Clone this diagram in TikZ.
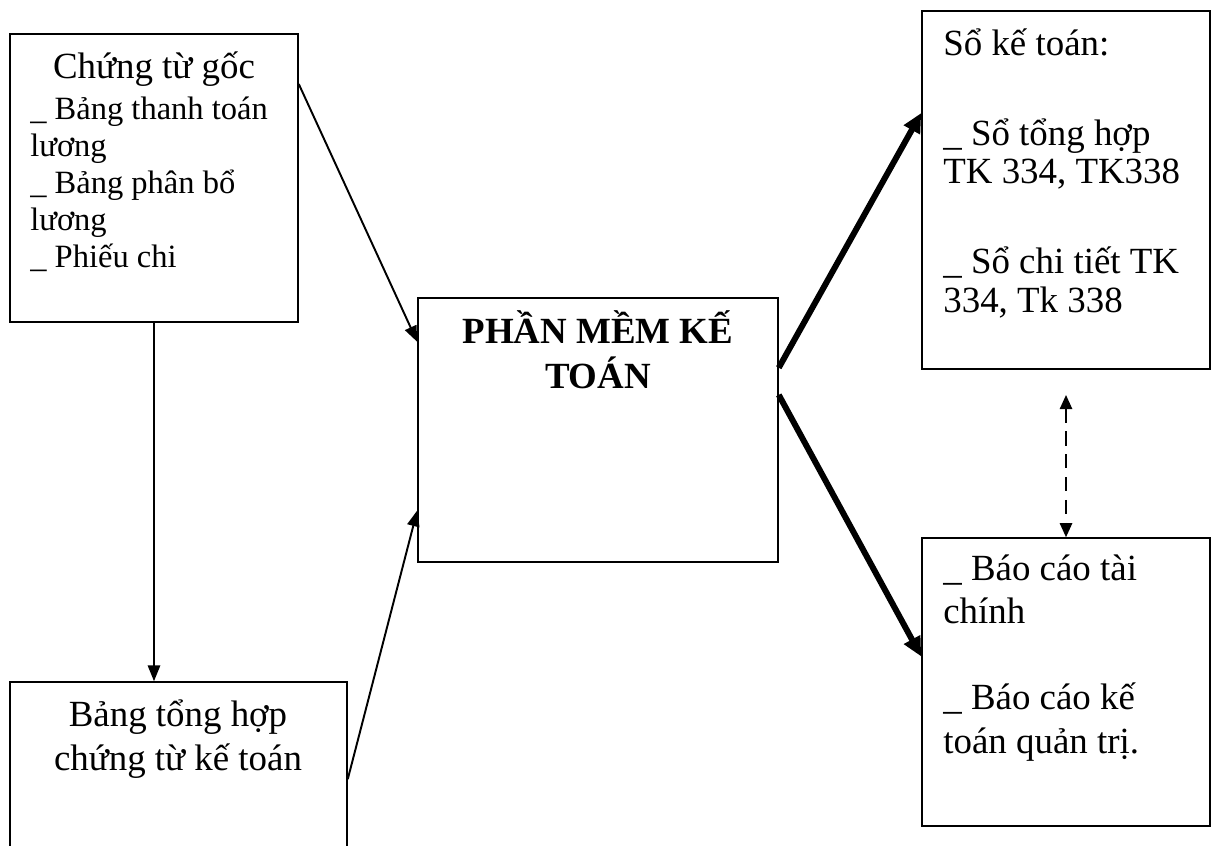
\documentclass[tikz,border=0pt]{standalone}
\usepackage{fontspec}
\setmainfont{Liberation Serif}
\usetikzlibrary{arrows.meta,calc}
\newcommand\bigtxt{\fontsize{21pt}{22pt}\selectfont}
\newcommand\listtxt{\fontsize{18.5pt}{21pt}\selectfont}
\begin{document}
\begin{tikzpicture}[x=0.02cm, y=-0.02cm,
  box/.style={draw, line width=0.9pt, inner sep=0pt},
  txt/.style={inner sep=0pt, align=left, anchor=base west, font=\bigtxt},
  thin arr/.style={-{Triangle[length=9pt,width=7pt]}, line width=1.1pt},
  fat arr/.style={-{Triangle[length=11pt,width=10pt]}, line width=3.4pt},
  dash arr/.style={{Triangle[length=8pt,width=7pt]}-{Triangle[length=8pt,width=7pt]}, line width=1pt, dash pattern=on 8pt off 5pt}]
\useasboundingbox (0,0) rectangle (1213,845);
% boxes
\node[box, minimum width=5.76cm, minimum height=5.76cm] (goc) at (154,178) {};
\node[box, minimum width=6.74cm, minimum height=4.36cm] (tonghop) at (178.5,791) {};
\node[box, minimum width=7.2cm, minimum height=5.28cm] (phanmem) at (598,430) {};
\node[box, minimum width=5.76cm, minimum height=7.16cm] (sokt) at (1066,190) {};
\node[box, minimum width=5.76cm, minimum height=5.76cm] (baocao) at (1066,682) {};
% texts (base = last line)
\node[txt, anchor=base, align=center] (goc-title) at (154,78) {Chứng từ gốc};
\node[txt, font=\listtxt] (goc-list) at (30,267) {\_ Bảng thanh toán\\lương\\\_ Bảng phân bổ\\lương\\\_ Phiếu chi};
\node[txt, anchor=base, align=center] (tonghop-text) at (178,770) {Bảng tổng hợp\\[2.5pt]chứng từ kế toán};
\node[txt, anchor=base, align=center, font=\bigtxt\bfseries] (phanmem-text) at (598,388) {PHẦN MỀM KẾ\\[3.6pt]TOÁN};
\node[txt] (sokt-text) at (943,312) {Sổ kế toán:\\[29pt]\_ Sổ tổng hợp\\TK 334, TK338\\[29pt]\_ Sổ chi tiết TK\\334, Tk 338};
\node[txt] (baocao-text) at (943,753) {\_ Báo cáo tài\\[2.5pt]chính\\[27pt]\_ Báo cáo kế\\[2.5pt]toán quản trị.};
% connectors
\draw[thin arr] (goc.33.7) -- (phanmem.154.2);
\draw[thin arr] (goc.south) -- (goc.south |- tonghop.north);
\draw[thin arr] (tonghop.4.4) -- (phanmem.204.8);
\draw[fat arr] (phanmem.19) -- (sokt.152.5);
\draw[fat arr] (phanmem.11) -- (baocao.170.2);
\coordinate (dash-top) at (1066,395);
\draw[dash arr] (dash-top) -- (baocao.north);
\end{tikzpicture}
\end{document}
